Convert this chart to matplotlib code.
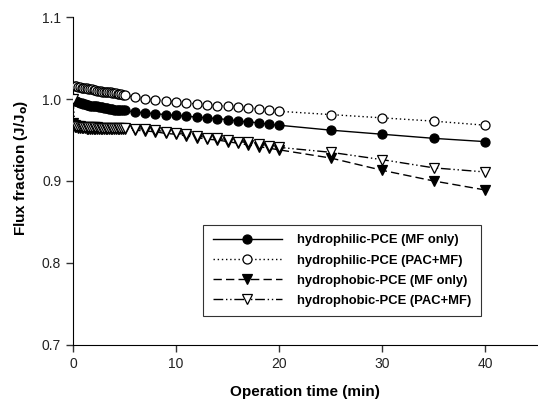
import matplotlib
matplotlib.use("Agg")
import matplotlib.pyplot as plt

plt.rcParams['font.family'] = ['Liberation Sans', 'DejaVu Sans']

time = [0, 0.17, 0.33, 0.5, 0.67, 0.83, 1.0, 1.17, 1.33, 1.5, 1.67, 1.83, 2.0,
        2.17, 2.33, 2.5, 2.67, 2.83, 3.0, 3.17, 3.33, 3.5, 3.67, 3.83, 4.0,
        4.17, 4.33, 4.5, 4.67, 4.83, 5.0,
        6, 7, 8, 9, 10, 11, 12, 13, 14, 15, 16, 17, 18, 19, 20,
        25, 30, 35, 40]

philic_mf = [1.000, 0.998, 0.997, 0.996, 0.995, 0.995, 0.994, 0.994, 0.993, 0.993,
             0.992, 0.992, 0.991, 0.991, 0.991, 0.990, 0.990, 0.990, 0.989, 0.989,
             0.989, 0.988, 0.988, 0.988, 0.987, 0.987, 0.987, 0.987, 0.986, 0.986,
             0.986,
             0.984, 0.983, 0.982, 0.981, 0.980, 0.979, 0.978, 0.977, 0.976, 0.975,
             0.973, 0.972, 0.971, 0.969, 0.968,
             0.962, 0.957, 0.952, 0.948]

philic_pac = [1.000, 1.016, 1.016, 1.015, 1.015, 1.014, 1.014, 1.013, 1.013, 1.012,
              1.012, 1.012, 1.011, 1.011, 1.010, 1.010, 1.010, 1.009, 1.009, 1.009,
              1.008, 1.008, 1.008, 1.007, 1.007, 1.007, 1.006, 1.006, 1.006, 1.005,
              1.005,
              1.002, 1.000, 0.999, 0.998, 0.996, 0.995, 0.994, 0.993, 0.992, 0.991,
              0.990, 0.989, 0.988, 0.987, 0.985,
              0.981, 0.977, 0.973, 0.968]

phobic_mf = [0.971, 0.966, 0.966, 0.965, 0.965, 0.965, 0.965, 0.965, 0.964, 0.964,
             0.964, 0.964, 0.964, 0.964, 0.964, 0.964, 0.964, 0.964, 0.963, 0.963,
             0.963, 0.963, 0.963, 0.963, 0.963, 0.963, 0.963, 0.963, 0.963, 0.963,
             0.963,
             0.962, 0.961, 0.960, 0.958, 0.957, 0.955, 0.953, 0.951, 0.950, 0.948,
             0.946, 0.944, 0.942, 0.940, 0.938,
             0.928, 0.913, 0.900, 0.889]

phobic_pac = [1.000, 0.968, 0.967, 0.967, 0.967, 0.966, 0.966, 0.966, 0.966, 0.966,
              0.966, 0.966, 0.966, 0.966, 0.966, 0.965, 0.965, 0.965, 0.965, 0.965,
              0.965, 0.965, 0.965, 0.965, 0.965, 0.965, 0.965, 0.965, 0.965, 0.965,
              0.965,
              0.964, 0.963, 0.962, 0.960, 0.958, 0.957, 0.955, 0.953, 0.952, 0.950,
              0.948, 0.947, 0.945, 0.943, 0.941,
              0.935, 0.926, 0.916, 0.911]

labels = ['hydrophilic-PCE (MF only)', 'hydrophilic-PCE (PAC+MF)',
          'hydrophobic-PCE (MF only)', 'hydrophobic-PCE (PAC+MF)']

fig = plt.figure(figsize=(5.38, 4.0), dpi=100)
ax = fig.add_axes([73/538, 1-345/400, (537-73)/538, (345-17)/400])

ms = 6.5
ax.plot(time, philic_mf, color='black', lw=1, ls='-', marker='o', ms=ms,
        mfc='black', mec='black', mew=0.9, label=labels[0], zorder=4)
ax.plot(time, philic_pac, color='black', lw=1, ls=(0, (1, 2)), marker='o', ms=ms,
        mfc='white', mec='black', mew=0.9, label=labels[1], zorder=3)
ax.plot(time, phobic_mf, color='black', lw=1, ls=(0, (6, 3)), marker='v', ms=ms,
        mfc='black', mec='black', mew=0.9, label=labels[2], zorder=3)
ax.plot(time, phobic_pac, color='black', lw=1, ls=(0, (7, 2, 1, 2, 1, 2)), marker='v', ms=ms,
        mfc='white', mec='black', mew=0.9, label=labels[3], zorder=4)

ax.set_xlim(0, 45)
ax.set_ylim(0.7, 1.1)
ax.set_xticks([0, 10, 20, 30, 40])
ax.set_yticks([0.7, 0.8, 0.9, 1.0, 1.1])
ax.set_yticklabels(['0.7', '0.8', '0.9', '1.0', '1.1'])
ax.spines['top'].set_visible(False)
ax.spines['right'].set_visible(False)
ax.tick_params(direction='out', length=5, width=1, labelsize=10, color='#333333',
               labelcolor='#222222')

ax.set_xlabel('Operation time (min)', fontsize=11, fontweight='bold', labelpad=10)
ax.set_ylabel('Flux fraction (J/J$_\\mathbf{o}$)', fontsize=11, fontweight='bold')
ax.yaxis.set_label_coords(-0.092, 0.54)

leg = ax.legend(loc='lower right', bbox_to_anchor=(0.879, 0.088), borderaxespad=0,
                frameon=True, fancybox=False, edgecolor='black',
                prop={'weight': 'bold', 'size': 9.4}, handlelength=5.3, numpoints=1,
                borderpad=0.7, labelspacing=0.62, handletextpad=1.2)
leg.get_frame().set_linewidth(0.8)

fig.savefig('out.png', dpi=100)
